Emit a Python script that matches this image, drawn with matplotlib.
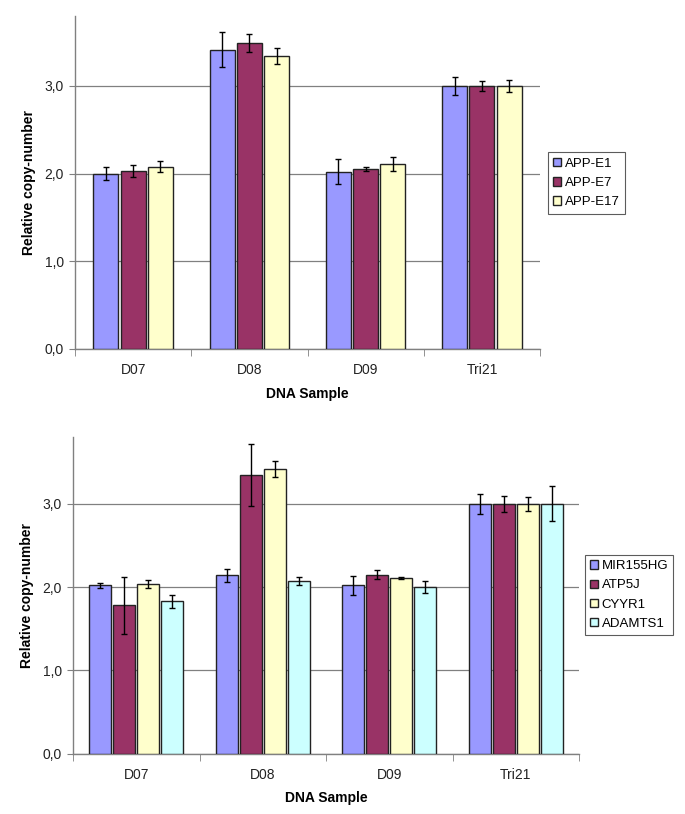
import numpy as np
import matplotlib.pyplot as plt

plt.rcParams['font.family'] = ['Liberation Sans', 'DejaVu Sans']

samples = ["D07", "D08", "D09", "Tri21"]

# top panel: APP exons
app_names = ["APP-E1", "APP-E7", "APP-E17"]
app_vals = [[2.00, 3.41, 2.02, 3.00],
            [2.03, 3.49, 2.05, 3.00],
            [2.08, 3.34, 2.11, 3.00]]
app_err = [[0.07, 0.20, 0.14, 0.10],
           [0.065, 0.10, 0.02, 0.06],
           [0.06, 0.09, 0.08, 0.07]]

# bottom panel: other chr21 genes
gene_names = ["MIR155HG", "ATP5J", "CYYR1", "ADAMTS1"]
gene_vals = [[2.02, 2.14, 2.02, 3.00],
             [1.78, 3.35, 2.15, 3.00],
             [2.04, 3.42, 2.11, 3.00],
             [1.83, 2.07, 2.00, 3.00]]
gene_err = [[0.025, 0.08, 0.11, 0.12],
            [0.34, 0.37, 0.055, 0.10],
            [0.05, 0.10, 0.015, 0.08],
            [0.08, 0.05, 0.07, 0.21]]

colors = ["#9999FF", "#993366", "#FFFFCC", "#CCFFFF"]
yticklabels = ["0,0", "1,0", "2,0", "3,0"]


def panel(ax, names, vals, errs, step, width, legend_box):
    x = np.arange(len(samples))
    n = len(names)
    for i in range(n):
        off = (i - (n - 1) / 2) * step
        ax.bar(x + off, vals[i], width, color=colors[i], edgecolor="#222222",
               linewidth=1.0, label=names[i], zorder=3)
        ax.errorbar(x + off, vals[i], yerr=errs[i], fmt="none", ecolor="black",
                    elinewidth=1.0, capsize=2.5, capthick=1.0, zorder=4)
    ax.set_xlim(-0.5, len(samples) - 0.5)
    ax.set_ylim(0, 3.8)
    ax.set_yticks([0, 1, 2, 3])
    ax.set_yticklabels(yticklabels)
    ax.yaxis.grid(True, color="#808080", linewidth=0.9, zorder=0)
    ax.set_xticks(x)
    ax.set_xticklabels(samples)
    ax.set_xticks(np.arange(len(samples) + 1) - 0.5, minor=True)
    ax.tick_params(axis="x", which="major", length=0, pad=10)
    ax.tick_params(axis="x", which="minor", length=5, color="#808080")
    ax.tick_params(axis="y", length=4, color="#808080", pad=4)
    ax.tick_params(labelsize=10, labelcolor="#222222")
    for s in ["top", "right"]:
        ax.spines[s].set_visible(False)
    for s in ["left", "bottom"]:
        ax.spines[s].set_color("#808080")
        ax.spines[s].set_linewidth(1.0)
    ax.set_xlabel("DNA Sample", fontsize=10, fontweight="bold", labelpad=7)
    ax.set_ylabel("Relative copy-number", fontsize=10, fontweight="bold", labelpad=6)
    leg = ax.legend(loc="center left", bbox_to_anchor=legend_box,
                    bbox_transform=ax.figure.transFigure, fontsize=9.5,
                    frameon=True, fancybox=False, handlelength=0.6,
                    handleheight=0.6, handletextpad=0.25, borderpad=0.4,
                    labelspacing=0.55, borderaxespad=0)
    leg.get_frame().set_edgecolor("#333333")
    leg.get_frame().set_linewidth(0.8)
    for h in leg.legend_handles:
        h.set_edgecolor("#222222")


fig = plt.figure(figsize=(6.85, 8.14), dpi=100)
ax1 = fig.add_axes([0.1095, 0.5713, 0.679, 0.4095])
ax2 = fig.add_axes([0.1066, 0.0741, 0.7387, 0.3887])

panel(ax1, app_names, app_vals, app_err, 0.234, 0.215, (548 / 685, 1 - 183 / 814))
panel(ax2, gene_names, gene_vals, gene_err, 0.19, 0.174, (585 / 685, 1 - 595 / 814))

fig.savefig("out.png", dpi=100)
